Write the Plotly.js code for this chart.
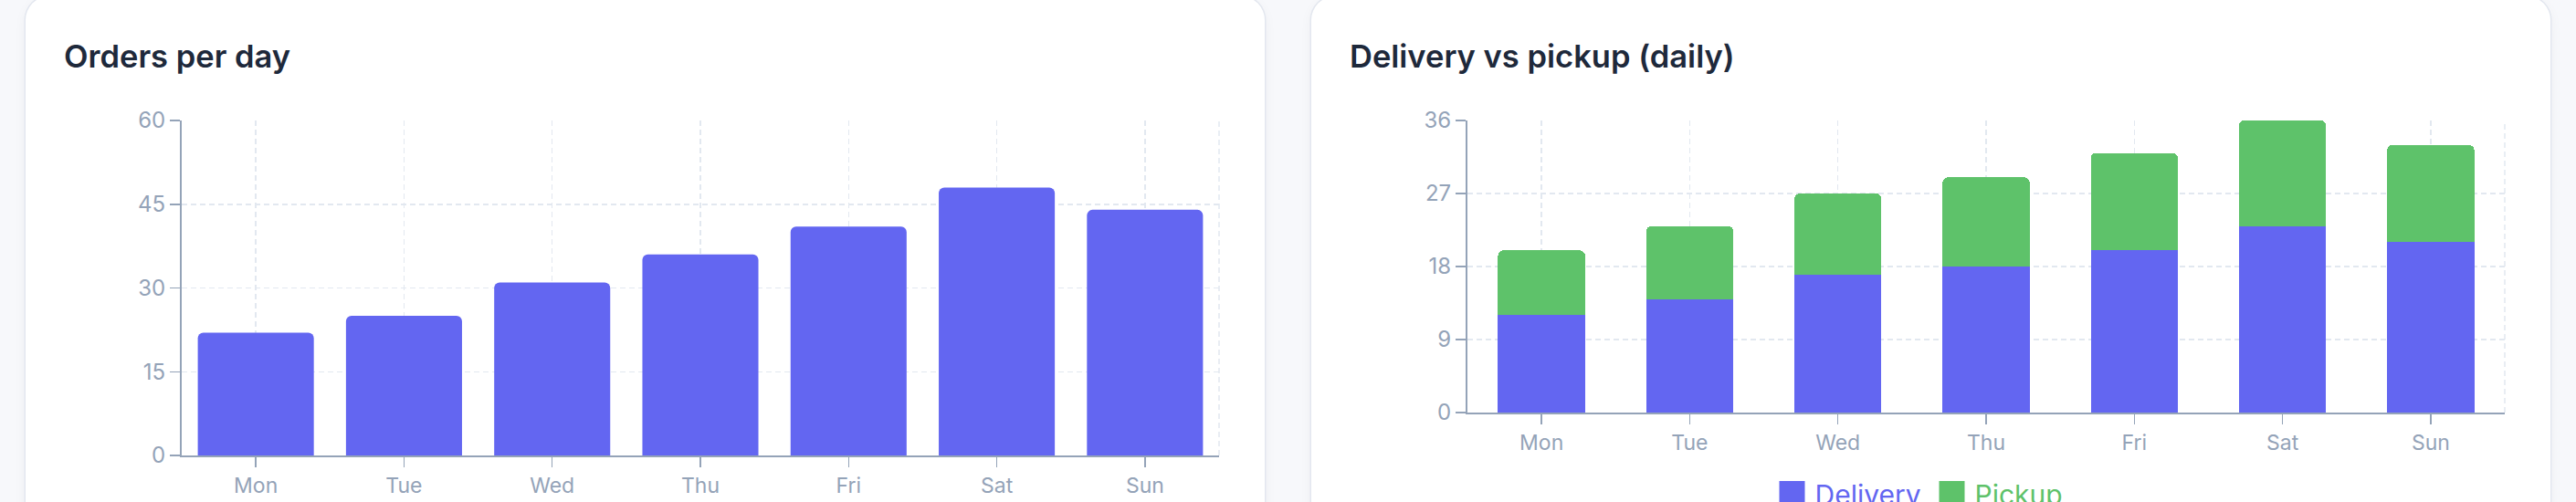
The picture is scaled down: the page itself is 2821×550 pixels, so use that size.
<!DOCTYPE html>
<html>
<head>
<meta charset="utf-8">
<script src="https://cdn.plot.ly/plotly-3.0.1.min.js"></script>
<style>
  html, body { margin: 0; padding: 0; width: 2821px; height: 550px; overflow: hidden; background: #f7f8fb; font-family: Inter, "Noto Sans", sans-serif; }
  .card { position: absolute; top: -4px; width: 1357px; height: 620px; background: #ffffff; border-radius: 26px;
          box-shadow: 0 0 0 1.5px #e3e7ef, 0 4px 14px rgba(15, 23, 42, 0.05); overflow: hidden; }
  .chart { position: absolute; left: 0; top: 0; width: 1357px; height: 554px; }
</style>
</head>
<body>
<div class="card" style="left:28px"><div id="c1" class="chart"></div></div>
<div class="card" style="left:1436px"><div id="c2" class="chart"></div></div>
<script>
// ---- data ----
const days = ['Mon', 'Tue', 'Wed', 'Thu', 'Fri', 'Sat', 'Sun'];
const orders = [22, 25, 31, 36, 41, 48, 44];
const delivery = [12, 14, 17, 18, 20, 23, 21];
const pickup = [8, 9, 10, 11, 12, 13, 12];
const ordersTicks = [0, 15, 30, 45, 60];
const mixTicks = [0, 9, 18, 27, 36];

// ---- style ----
const INDIGO = '#6366f1';
const GREEN = '#5ec26a';
const AXIS = '#94a3b8';
const GRID = '#e2e8f0';
const FONT = 'Inter, "Noto Sans", sans-serif';

function baseLayout(title, ticks, b) {
  return {
    width: 1357, height: 554,
    margin: { l: 171, r: 50, t: 136, b: b, pad: 0 },
    paper_bgcolor: 'rgba(0,0,0,0)',
    plot_bgcolor: 'rgba(0,0,0,0)',
    font: { family: FONT, color: AXIS },
    title: {
      text: title,
      font: { family: FONT, size: 34.5, color: '#1e293b', weight: 600 },
      xref: 'container', x: 42 / 1357, xanchor: 'left',
      yref: 'container', y: 1 - 54 / 554, yanchor: 'top'
    },
    xaxis: {
      type: 'category',
      showline: true, linecolor: AXIS, linewidth: 2,
      ticks: 'outside', ticklen: 11, tickwidth: 1.5, tickcolor: AXIS,
      showgrid: true, gridcolor: GRID, gridwidth: 1.5, griddash: '6px,4px',
      tickfont: { family: FONT, size: 23, color: AXIS },
      zeroline: false, fixedrange: true
    },
    yaxis: {
      range: [ticks[0], ticks[ticks.length - 1]],
      tickvals: ticks, ticktext: ticks.map(String),
      showline: true, linecolor: AXIS, linewidth: 2,
      ticks: 'outside', ticklen: 11, tickwidth: 1.5, tickcolor: AXIS,
      showgrid: true, gridcolor: GRID, gridwidth: 1.5, griddash: '6px,4px',
      tickfont: { family: FONT, size: 24, color: AXIS },
      zeroline: false, fixedrange: true
    },
    shapes: [{
      type: 'line', xref: 'paper', yref: 'paper', x0: 1, x1: 1, y0: 0, y1: 1,
      line: { color: GRID, width: 1.5, dash: '6px,4px' }, layer: 'below'
    }],
    hovermode: false
  };
}

const config = { staticPlot: true, displayModeBar: false };

// Chart 1
const l1 = baseLayout('Orders per day', ordersTicks, 50.7);
l1.bargap = 0.217;
l1.showlegend = false;
Plotly.newPlot('c1', [{
  type: 'bar', x: days, y: orders, name: 'Orders',
  marker: { color: INDIGO, cornerradius: 6 }
}], l1, config);

// Chart 2
const l2 = baseLayout('Delivery vs pickup (daily)', mixTicks, 98.4);
l2.barmode = 'stack';
l2.bargap = 0.412;
l2.showlegend = true;
l2.legend = {
  orientation: 'h', traceorder: 'normal',
  entrywidthmode: 'pixels', entrywidth: 130,
  xref: 'container', x: 0.5 + 8 / 1357, xanchor: 'center',
  yref: 'container', y: 1 - 545 / 554, yanchor: 'middle',
  font: { family: FONT, size: 30, color: AXIS },
  bgcolor: 'rgba(0,0,0,0)', itemclick: false, itemdoubleclick: false
};
Plotly.newPlot('c2', [
  { type: 'bar', x: days, y: delivery, name: '<span style="color:' + INDIGO + '">Delivery</span>',
    marker: { color: INDIGO, cornerradius: 6 } },
  { type: 'bar', x: days, y: pickup, name: '<span style="color:' + GREEN + '">Pickup</span>',
    marker: { color: GREEN, cornerradius: 6 } }
], l2, config).then(function (gd) {
  gd.querySelectorAll('.legendpoints path').forEach(function (p) {
    p.setAttribute('d', 'M9,14H-19V-14H9Z');
  });
});
</script>
</body>
</html>
